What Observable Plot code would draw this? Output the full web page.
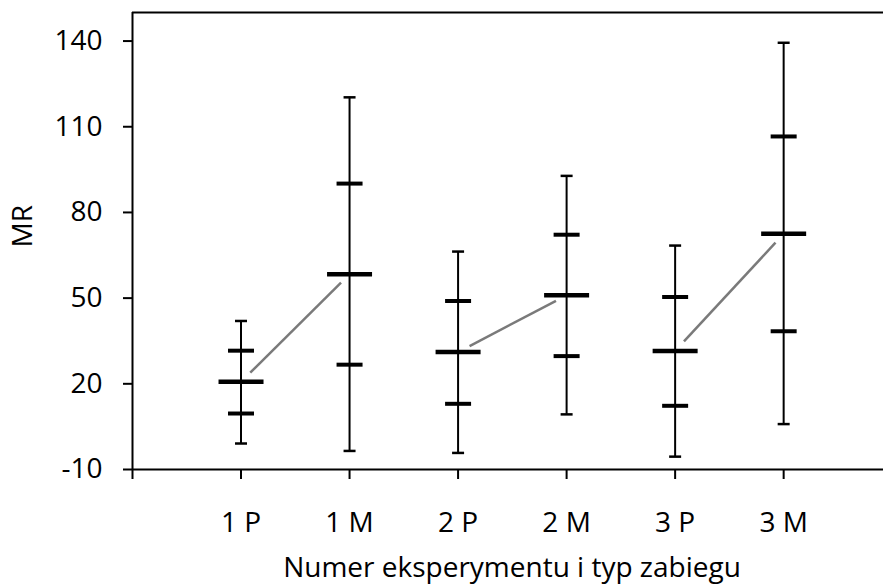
<!DOCTYPE html>
<html><head><meta charset="utf-8">
<script src="https://cdn.jsdelivr.net/npm/d3@7"></script>
<script src="https://cdn.jsdelivr.net/npm/@observablehq/plot@0.6"></script>
<style>html,body{margin:0;padding:0;background:#fff;overflow:hidden}</style>
</head><body><div id="chart"></div>
<script>
// ---- data ----
const categories = ["1 P", "1 M", "2 P", "2 M", "3 P", "3 M"];
const maxVals   = [42.0, 120.3, 66.3, 92.8, 68.4, 139.4];
const upperVals = [31.6,  90.1, 49.0, 72.2, 50.4, 106.6];
const meanVals  = [20.7,  58.4, 31.1, 51.0, 31.5,  72.5];
const lowerVals = [ 9.6,  26.7, 13.0, 29.7, 12.3,  38.4];
const minVals   = [-0.9,  -3.5, -4.2,  9.3, -5.5,   5.9];
const pairs = [[0, 1], [2, 3], [4, 5]];        // P -> M connections
const yTicks = [-10, 20, 50, 80, 110, 140];
const xTicks = [0, 1, 2, 3, 4, 5, 6];
const xTitle = "Numer eksperymentu i typ zabiegu";
const yTitle = "MR";

// ---- layout ----
const W = 883, H = 586;
const mL = 132, mR = 0, mT = 12, mB = 117;
const xDomain = [0, 6.92];
const yDomain = [-10, 150];
const FONT = "'Open Sans', Lato, sans-serif";
const FS = 28;

const rows = categories.map((c, i) => ({
  cat: c, pos: i + 1, max: maxVals[i], up: upperVals[i],
  mean: meanVals[i], low: lowerVals[i], min: minVals[i]
}));

// pixel per unit (to trim the connecting lines by a fixed pixel gap)
const kx = (W - mL - mR) / (xDomain[1] - xDomain[0]);
const ky = (H - mT - mB) / (yDomain[1] - yDomain[0]);
const gapStart = 13, gapEnd = 12;
const segs = pairs.map(([a, b]) => {
  const A = rows[a], B = rows[b];
  const dxp = (B.pos - A.pos) * kx, dyp = (B.mean - A.mean) * ky;
  const L = Math.hypot(dxp, dyp);
  const t0 = gapStart / L, t1 = 1 - gapEnd / L;
  return {
    x1: A.pos + (B.pos - A.pos) * t0, y1: A.mean + (B.mean - A.mean) * t0,
    x2: A.pos + (B.pos - A.pos) * t1, y2: A.mean + (B.mean - A.mean) * t1
  };
});

// horizontal bar symbol (pixel sized)
const hbar = (w, h) => ({ draw(ctx) { ctx.rect(-w / 2, -h / 2, w, h); } });

const plot = Plot.plot({
  width: W, height: H,
  marginLeft: mL, marginRight: mR, marginTop: mT, marginBottom: mB,
  style: { fontFamily: FONT, fontSize: FS + "px", color: "#000", background: "#fff", overflow: "visible" },
  x: { domain: xDomain, axis: null },
  y: { domain: yDomain, axis: null },
  marks: [
    Plot.link(segs, { x1: "x1", y1: "y1", x2: "x2", y2: "y2", stroke: "#7a7a7a", strokeWidth: 2.5 }),
    Plot.ruleX(rows, { x: "pos", y1: "min", y2: "max", stroke: "#000", strokeWidth: 2 }),
    Plot.dot(rows, { x: "pos", y: "max", symbol: hbar(12, 2.5), fill: "#000", stroke: "none" }),
    Plot.dot(rows, { x: "pos", y: "min", symbol: hbar(12, 2.5), fill: "#000", stroke: "none" }),
    Plot.dot(rows, { x: "pos", y: "up", symbol: hbar(26, 4), fill: "#000", stroke: "none" }),
    Plot.dot(rows, { x: "pos", y: "low", symbol: hbar(26, 4), fill: "#000", stroke: "none" }),
    Plot.dot(rows, { x: "pos", y: "mean", symbol: hbar(45, 4.5), fill: "#000", stroke: "none" }),
    // axes
    Plot.axisY({ ticks: yTicks, tickFormat: d => String(d), tickSize: 9, tickPadding: 21,
      strokeWidth: 2, fontSize: FS, label: null }),
    Plot.axisX({ ticks: xTicks, tickFormat: d => d === 0 ? "" : categories[d - 1], tickSize: 10,
      tickPadding: 32.8, strokeWidth: 2, fontSize: FS, label: null }),
    Plot.ruleX([xDomain[0]], { stroke: "#000", strokeWidth: 2 }),
    Plot.ruleY([yDomain[0]], { stroke: "#000", strokeWidth: 2 }),
    Plot.ruleY([yDomain[1]], { stroke: "#000", strokeWidth: 2 }),
    // titles
    Plot.text([xTitle], { frameAnchor: "bottom", dx: 4, dy: 98.5, lineAnchor: "middle",
      fontSize: FS, fill: "#000" }),
    Plot.text([yTitle], { frameAnchor: "left", dx: -109, dy: 6.5, rotate: -90, lineAnchor: "middle",
      fontSize: FS, fill: "#000" })
  ]
});
document.getElementById("chart").appendChild(plot);
</script>
</body></html>
